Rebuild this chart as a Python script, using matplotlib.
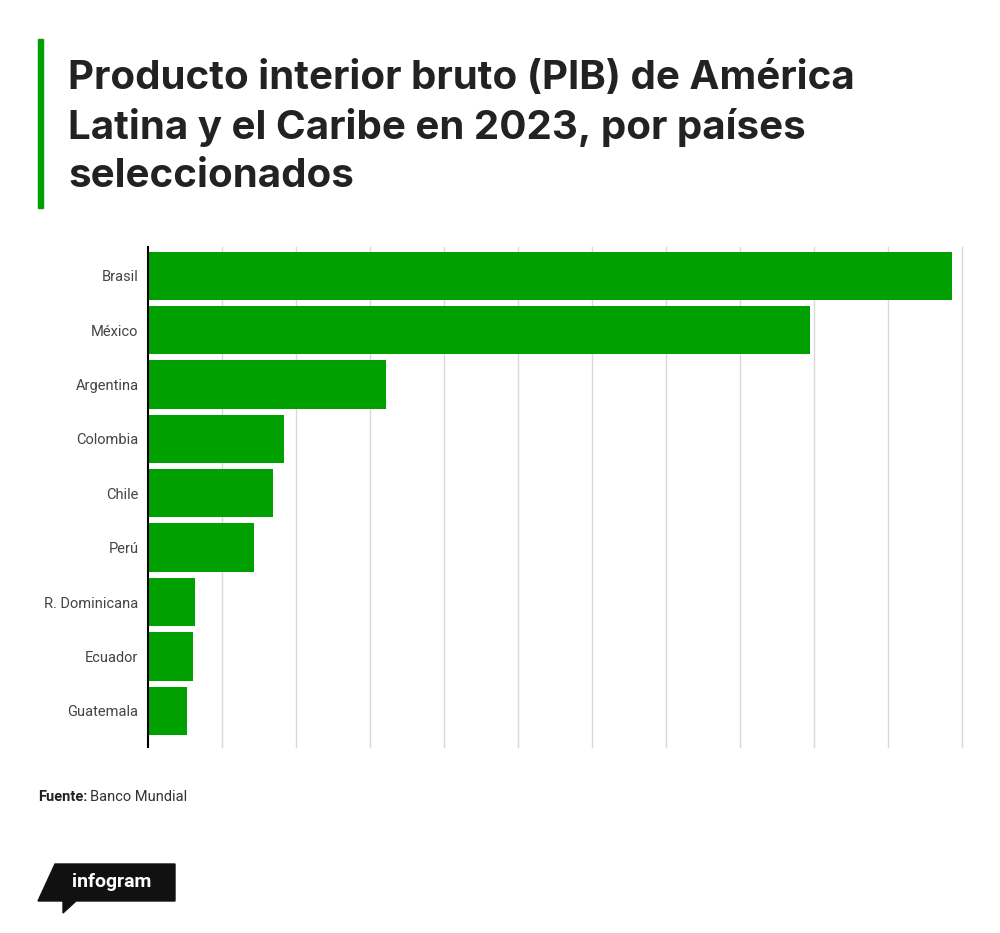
import matplotlib
matplotlib.use('Agg')
import matplotlib.pyplot as plt
from matplotlib.patches import Polygon, Rectangle

##################################################################
# DATA (PIB 2023, miles de millones USD)
##################################################################
paises = ['Brasil', 'México', 'Argentina', 'Colombia', 'Chile', 'Perú',
          'R. Dominicana', 'Ecuador', 'Guatemala']
pib = [2174, 1790, 643, 367, 338, 286, 125, 122, 105]

titulo = 'Producto interior bruto (PIB) de América\nLatina y el Caribe en 2023, por países\nseleccionados'
fuente = 'Banco Mundial'

verde = '#00a000'
W, H = 1000, 933

##################################################################
# FIGURE
##################################################################
fig = plt.figure(figsize=(W / 100, H / 100), dpi=100)
fig.patch.set_facecolor('white')

# axes placed in pixel terms
left, right, top, bottom = 148.3, 961.7, 246.7, 746.7
ax = fig.add_axes([left / W, 1 - bottom / H, (right - left) / W, (bottom - top) / H])

ypos = list(range(len(paises)))
ax.barh(ypos, pib, height=0.89, color=verde, zorder=3)

ax.set_xlim(0, 2200)
ax.set_xticks(range(200, 2201, 200))
ax.set_ylim(8.66, -0.535)
ax.set_yticks(ypos)
ax.set_yticklabels(paises, fontsize=10.5, color='#444444', family='Roboto')
ax.tick_params(axis='y', length=0, pad=7)
ax.tick_params(axis='x', length=0, labelbottom=False)
ax.grid(axis='x', color='#d9d9d9', linewidth=1, zorder=0)
for gl in ax.get_xgridlines():
    gl.set_clip_on(False)
for s in ['top', 'right', 'bottom']:
    ax.spines[s].set_visible(False)
ax.spines['left'].set_color('black')
ax.spines['left'].set_linewidth(1.5)
ax.spines['left'].set_zorder(4)

##################################################################
# TITLE WITH GREEN MARKER
##################################################################
fig.patches.append(Rectangle((37.5 / W, 1 - 208 / H), 5.5 / W, 169 / H,
                             transform=fig.transFigure, color=verde, zorder=2))
fig.text(68 / W, 1 - 60 / H, titulo, fontsize=29, fontweight='bold',
         family='Inter', color='#222222', va='top', ha='left', linespacing=1.36)

##################################################################
# SOURCE AND LOGO
##################################################################
t = fig.text(38 / W, 1 - 797 / H, 'Fuente:', fontsize=10.5, fontweight='bold',
             family='Roboto', color='#222222', va='center')
fig.canvas.draw()
bb = t.get_window_extent()
fig.text(bb.x1 / W + 3 / W, 1 - 797 / H, fuente, fontsize=10.5, family='Roboto',
         color='#333333', va='center')

logo = [(55, 864), (175, 864), (175, 901), (76, 901), (63, 913), (63, 901), (38, 901)]
fig.patches.append(Polygon([(x / W, 1 - y / H) for x, y in logo], closed=True,
                           transform=fig.transFigure, color='#111111'))
fig.text(112 / W, 1 - 882 / H, 'infogram', fontsize=14, fontweight='bold',
         family='Roboto', color='white', ha='center', va='center')

fig.savefig('out.png', dpi=100, facecolor='white')
